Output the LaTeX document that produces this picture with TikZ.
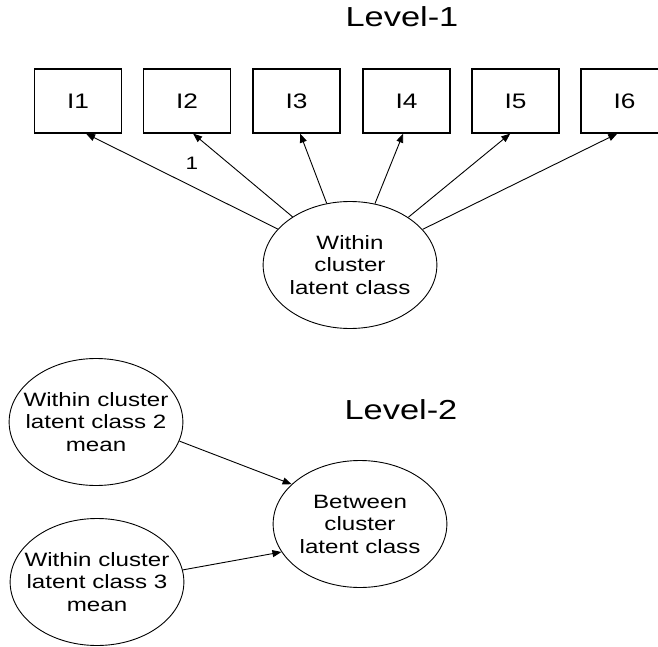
\documentclass[tikz,border=0pt]{standalone}
\usepackage{fontspec}
\setmainfont{Liberation Sans}
\usetikzlibrary{arrows.meta,shapes.geometric,calc}
\begin{document}
\begin{tikzpicture}[x=0.8pt,y=-1pt,xscale=1.25,
  every node/.append style={transform shape},
  box/.style={draw, line width=1.2pt, minimum width=69.6pt, minimum height=64pt, inner sep=0pt, font=\fontsize{21}{24}\selectfont},
  latent/.style={draw, ellipse, line width=0.9pt, minimum width=139pt, minimum height=127pt, inner xsep=-12pt, inner ysep=-12pt, align=center, font=\fontsize{19.3}{22.5}\selectfont},
  lvl/.style={font=\fontsize{27.5}{33}\selectfont},
  conn/.style={draw, line width=0.9pt, -{Triangle[length=9pt,width=7pt]}}]
\useasboundingbox (0,0) rectangle (658,647);
\clip (0,0) rectangle (658,647);
\fill[white] (0,0) rectangle (658,647);

\node[lvl] (L1) at (402,17) {Level-1};
\node[lvl] (L2) at (401,410) {Level-2};

\node[box] (I1) at (78,101) {I1};
\node[box] (I2) at (187,101) {I2};
\node[box] (I3) at (296.5,101) {I3};
\node[box] (I4) at (406.5,101) {I4};
\node[box] (I5) at (515.5,101) {I5};
\node[box] (I6) at (624.5,101) {I6};

\node[latent] (W) at (350,265) {Within\\cluster\\latent class};
\node[latent] (W2) at (96,422) {Within cluster\\latent class 2\\mean};
\node[latent] (W3) at (97,582) {Within cluster\\latent class 3\\mean};
\node[latent] (B) at (360,524) {Between\\cluster\\latent class};

\coordinate (t1) at ($(I1.south)+(8,0)$);
\coordinate (t2) at ($(I2.south)+(6,0)$);
\coordinate (t3) at ($(I3.south)+(3.5,0)$);
\coordinate (t4) at ($(I4.south)+(-3.5,0)$);
\coordinate (t5) at ($(I5.south)+(-5.5,0)$);
\coordinate (t6) at ($(I6.south)+(-7.5,0)$);

\draw[conn] (W) -- (t1);
\draw[conn] (W) -- (t2);
\draw[conn] (W) -- (t3);
\draw[conn] (W) -- (t4);
\draw[conn] (W) -- (t5);
\draw[conn] (W) -- (t6);

\node[font=\fontsize{18}{20}\selectfont] (one) at (192,163) {1};

\draw[conn] (W2.-16) -- (B.144);
\draw[conn] (W3.10) -- (B.204);
\end{tikzpicture}
\end{document}
